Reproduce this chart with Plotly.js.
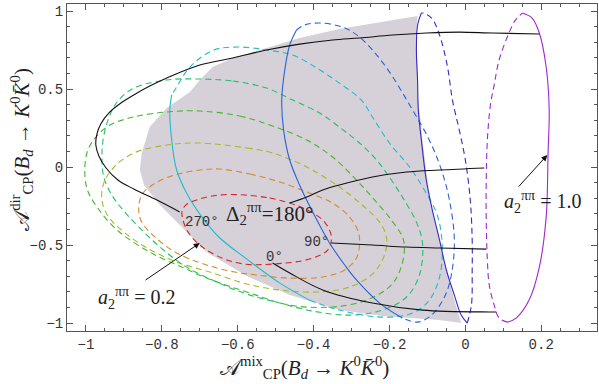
<!DOCTYPE html>
<html>
<head>
<meta charset="utf-8">
<script src="https://cdn.plot.ly/plotly-3.0.1.min.js"></script>
<style>html,body{margin:0;padding:0;background:#fff}</style>
</head>
<body>
<div id="chart" style="width:599px;height:384px"></div>
<script>
// Grey allowed region (A_mix, A_dir) boundary
const regionX = [-0.126,-0.226,-0.332,-0.437,-0.524,-0.613,-0.666,-0.700,-0.726,-0.787,-0.832,-0.853,-0.858,-0.847,-0.805,-0.753,-0.682,-0.576,-0.463,-0.332,-0.218,-0.068,-0.011,-0.029,-0.050,-0.068,-0.087,-0.100,-0.113,-0.124,-0.126,-0.129,-0.126];
const regionY = [0.968,0.929,0.885,0.827,0.763,0.699,0.641,0.558,0.481,0.378,0.256,0.090,-0.019,-0.115,-0.244,-0.372,-0.545,-0.699,-0.821,-0.917,-0.955,-0.981,-1.000,-0.853,-0.660,-0.468,-0.276,-0.083,0.173,0.429,0.686,0.878,0.968];

// a2 = 0.2 (red, dashed, closed)
const a02X = [-0.582,-0.516,-0.463,-0.411,-0.371,-0.353,-0.363,-0.411,-0.508,-0.582,-0.642,-0.700,-0.734,-0.747,-0.737,-0.700,-0.647,-0.582];
const a02Y = [-0.179,-0.199,-0.231,-0.282,-0.353,-0.449,-0.532,-0.590,-0.622,-0.622,-0.583,-0.500,-0.404,-0.288,-0.244,-0.205,-0.179,-0.179];
// a2 = 0.3 (orange)
const a03X = [-0.647,-0.568,-0.489,-0.418,-0.350,-0.305,-0.282,-0.279,-0.287,-0.318,-0.376,-0.463,-0.550,-0.608,-0.682,-0.761,-0.818,-0.853,-0.861,-0.853,-0.821,-0.766,-0.700,-0.647];
const a03Y = [-0.013,-0.045,-0.096,-0.160,-0.231,-0.321,-0.417,-0.500,-0.583,-0.660,-0.705,-0.712,-0.692,-0.673,-0.628,-0.551,-0.449,-0.353,-0.276,-0.179,-0.109,-0.051,-0.019,-0.013];
// a2 = 0.4 (olive)
const a04X = [-0.700,-0.576,-0.508,-0.418,-0.332,-0.266,-0.226,-0.208,-0.213,-0.245,-0.305,-0.392,-0.489,-0.576,-0.674,-0.761,-0.839,-0.900,-0.942,-0.958,-0.953,-0.926,-0.874,-0.787,-0.700];
const a04Y = [0.154,0.122,0.090,0.000,-0.128,-0.256,-0.353,-0.449,-0.564,-0.686,-0.769,-0.801,-0.788,-0.750,-0.673,-0.609,-0.519,-0.417,-0.314,-0.212,-0.103,0.000,0.090,0.141,0.154];
// a2 = 0.5 (green)
const a05X = [-0.700,-0.595,-0.508,-0.418,-0.350,-0.287,-0.239,-0.195,-0.163,-0.166,-0.195,-0.261,-0.350,-0.463,-0.576,-0.682,-0.742,-0.832,-0.918,-0.971,-0.997,-1.003,-0.995,-0.974,-0.937,-0.874,-0.787,-0.700];
const a05Y = [0.359,0.327,0.263,0.173,0.064,-0.083,-0.212,-0.340,-0.468,-0.615,-0.756,-0.853,-0.897,-0.885,-0.801,-0.712,-0.647,-0.545,-0.404,-0.256,-0.141,0.000,0.109,0.192,0.269,0.321,0.353,0.359];
// a2 = 0.6 (teal green)
const a06X = [-0.700,-0.613,-0.524,-0.455,-0.384,-0.332,-0.279,-0.234,-0.195,-0.161,-0.129,-0.113,-0.121,-0.155,-0.218,-0.305,-0.403,-0.489,-0.576,-0.661,-0.739,-0.805,-0.858,-0.900,-0.932,-0.953,-0.958,-0.955,-0.942,-0.918,-0.874,-0.787,-0.700];
const a06Y = [0.564,0.551,0.506,0.429,0.346,0.256,0.154,0.045,-0.083,-0.212,-0.353,-0.487,-0.692,-0.833,-0.917,-0.949,-0.923,-0.872,-0.814,-0.731,-0.635,-0.513,-0.391,-0.282,-0.179,-0.064,0.064,0.173,0.301,0.417,0.506,0.558,0.564];
// a2 = 0.7 (cyan): dashed part and solid part
const a07dX = [-0.411,-0.332,-0.218,-0.139,-0.095,-0.068,-0.061,-0.074,-0.108,-0.147,-0.200,-0.245,-0.274,-0.332,-0.392,-0.455,-0.524,-0.595,-0.663,-0.726,-0.761,-0.774];
const a07dY = [-0.853,-0.917,-0.962,-0.936,-0.853,-0.705,-0.500,-0.308,-0.147,0.000,0.154,0.321,0.429,0.538,0.635,0.718,0.750,0.769,0.750,0.641,0.513,0.462];
const a07sX = [-0.774,-0.779,-0.774,-0.761,-0.732,-0.692,-0.647,-0.576,-0.489,-0.411];
const a07sY = [0.462,0.365,0.173,-0.019,-0.179,-0.327,-0.455,-0.590,-0.744,-0.853];
// a2 = 0.8 (blue)
const a08dX = [-0.445,-0.424,-0.384,-0.324,-0.279,-0.213,-0.139,-0.095,-0.063,-0.042,-0.029,-0.037,-0.055,-0.089,-0.126,-0.166];
const a08dY = [0.878,0.910,0.923,0.897,0.833,0.654,0.365,0.173,-0.019,-0.212,-0.468,-0.692,-0.833,-0.949,-0.994,-0.968];
const a08sX = [-0.445,-0.463,-0.476,-0.484,-0.479,-0.463,-0.437,-0.405,-0.358,-0.318,-0.287,-0.226,-0.166];
const a08sY = [0.878,0.782,0.622,0.429,0.237,0.045,-0.115,-0.276,-0.487,-0.628,-0.724,-0.872,-0.968];
// a2 = 0.9 (indigo)
const a09dX = [0.005,0.016,0.018,0.018,0.013,0.000,-0.016,-0.034,-0.047,-0.068,-0.089,-0.111,-0.116];
const a09dY = [-1.000,-0.885,-0.660,-0.468,-0.212,0.045,0.237,0.429,0.641,0.846,0.955,0.987,0.987];
const a09sX = [-0.116,-0.126,-0.129,-0.126,-0.124,-0.116,-0.103,-0.087,-0.068,-0.050,-0.029,-0.011,0.005];
const a09sY = [0.987,0.910,0.750,0.558,0.365,0.173,-0.083,-0.276,-0.468,-0.660,-0.821,-0.949,-1.000];
// a2 = 1.0 (purple)
const a10dX = [0.111,0.089,0.076,0.063,0.058,0.055,0.055,0.058,0.066,0.076,0.089,0.116,0.132,0.150];
const a10dY = [-0.994,-0.968,-0.885,-0.756,-0.596,-0.340,-0.083,0.173,0.397,0.526,0.686,0.865,0.942,0.987];
const a10sX = [0.150,0.176,0.195,0.213,0.221,0.218,0.213,0.195,0.168,0.134,0.111];
const a10sY = [0.987,0.955,0.859,0.641,0.365,0.090,-0.321,-0.641,-0.853,-0.968,-0.994];

// Constant-phase curves Delta2 = 270, 180, 90, 0 degrees
const d270X = [-0.753,-0.813,-0.874,-0.916,-0.947,-0.966,-0.974,-0.971,-0.961,-0.937,-0.908,-0.874,-0.832,-0.787,-0.700,-0.613,-0.524,-0.437,-0.350,-0.279,-0.192,-0.103,-0.016,0.071,0.195];
const d270Y = [-0.288,-0.212,-0.141,-0.083,-0.006,0.071,0.141,0.212,0.276,0.353,0.410,0.462,0.519,0.571,0.654,0.699,0.750,0.788,0.814,0.827,0.846,0.859,0.865,0.859,0.853];
const d180X = [-0.463,-0.418,-0.376,-0.332,-0.245,-0.155,-0.068,0.050];
const d180Y = [-0.231,-0.192,-0.147,-0.115,-0.064,-0.032,-0.019,-0.006];
const d90X = [-0.353,-0.245,-0.155,-0.068,0.055];
const d90Y = [-0.487,-0.500,-0.513,-0.519,-0.526];
const d0X = [-0.508,-0.463,-0.376,-0.245,-0.113,0.063,0.082];
const d0Y = [-0.615,-0.679,-0.788,-0.872,-0.917,-0.929,-0.929];

const tickValsX = [-1,-0.8,-0.6,-0.4,-0.2,0,0.2];
const tickTextX = ['\u22121','\u22120.8','\u22120.6','\u22120.4','\u22120.2','0','0.2'];
const tickValsY = [-1,-0.5,0,0.5,1];
const tickTextY = ['\u22121','\u22120.5','0','0.5','1'];

const DASH = '6px,4px';
function ln(x, y, color, dash) {
  return {x: x, y: y, type: 'scatter', mode: 'lines',
    line: {color: color, width: 1.1, dash: dash || 'solid', shape: 'spline', smoothing: 1},
    hoverinfo: 'skip'};
}
const traces = [
  {x: regionX, y: regionY, type: 'scatter', mode: 'lines', fill: 'toself',
   fillcolor: 'rgb(214,208,216)', line: {width: 0, color: 'rgba(0,0,0,0)'}, hoverinfo: 'skip'},
  ln(a02X, a02Y, '#d42424', DASH),
  ln(a03X, a03Y, '#d48a28', DASH),
  ln(a04X, a04Y, '#a8b828', DASH),
  ln(a05X, a05Y, '#44b82c', DASH),
  ln(a06X, a06Y, '#20c070', DASH),
  ln(a07dX, a07dY, '#20bcc8', DASH),
  ln(a07sX, a07sY, '#20bcc8'),
  ln(a08dX, a08dY, '#2864d4', DASH),
  ln(a08sX, a08sY, '#2864d4'),
  ln(a09dX, a09dY, '#3a28c8', DASH),
  ln(a09sX, a09sY, '#3a28c8'),
  ln(a10dX, a10dY, '#a028d0', DASH),
  ln(a10sX, a10sY, '#a028d0'),
  ln(d270X, d270Y, '#111111'),
  ln(d180X, d180Y, '#111111'),
  ln(d90X, d90Y, '#111111'),
  ln(d0X, d0Y, '#111111')
];

const monoFont = {family: 'Liberation Mono, DejaVu Sans Mono, monospace', size: 14, color: '#333'};
const serif = 'Liberation Serif, DejaVu Serif, serif';
const mathFont = {family: serif, size: 21, color: '#222'};
const xTitle = '\ud835\udc9c<sup>mix</sup><sub>CP</sub>(<i>B<sub>d</sub></i> \u2192 <i>K</i><sup>0</sup><i>K\u0304</i><sup>0</sup>)';
const yTitle = '\ud835\udc9c<sup>dir</sup><sub>CP</sub>(<i>B<sub>d</sub></i> \u2192 <i>K</i><sup>0</sup><i>K\u0304</i><sup>0</sup>)';
const tickFont = {family: 'Liberation Mono, DejaVu Sans Mono, monospace', size: 14, color: '#333'};

const layout = {
  width: 599, height: 384,
  margin: {l: 67, r: 2, t: 4, b: 53},
  paper_bgcolor: '#ffffff', plot_bgcolor: '#ffffff',
  showlegend: false, hovermode: false,
  xaxis: {
    range: [-1.05, 0.347], tickvals: tickValsX, ticktext: tickTextX,
    ticks: 'inside', ticklen: 6, tickcolor: '#555', mirror: 'allticks',
    showline: true, linecolor: '#555', linewidth: 1, showgrid: false, zeroline: false,
    tickfont: tickFont,
    minor: {dtick: 0.05, tick0: 0, ticks: 'inside', ticklen: 3, tickcolor: '#555', showgrid: false}
  },
  yaxis: {
    range: [-1.051, 1.045], tickvals: tickValsY, ticktext: tickTextY,
    ticks: 'inside', ticklen: 6, tickcolor: '#555', mirror: 'allticks',
    showline: true, linecolor: '#555', linewidth: 1, showgrid: false, zeroline: false,
    tickfont: tickFont,
    minor: {dtick: 0.1, tick0: 0, ticks: 'inside', ticklen: 3, tickcolor: '#555', showgrid: false}
  },
  annotations: [
    {x: 0.449, y: -0.113, xref: 'paper', yref: 'paper', xanchor: 'center', yanchor: 'middle',
     text: xTitle, showarrow: false, font: mathFont},
    {x: -0.085, y: 0.557, xref: 'paper', yref: 'paper', xanchor: 'center', yanchor: 'middle',
     text: yTitle, showarrow: false, textangle: -90, font: mathFont},
    {x: -0.695, y: -0.353, xref: 'x', yref: 'y', text: '270\u00b0', showarrow: false, font: monoFont},
    {x: -0.392, y: -0.481, xref: 'x', yref: 'y', text: '90\u00b0', showarrow: false, font: monoFont},
    {x: -0.503, y: -0.577, xref: 'x', yref: 'y', text: '0\u00b0', showarrow: false, font: monoFont},
    {x: -0.515, y: -0.295, xref: 'x', yref: 'y', text: '\u0394<sub>2</sub><sup>\u03c0\u03c0</sup>=180\u00b0', showarrow: false,
     font: {family: serif, size: 21, color: '#222'}},
    {x: -0.866, y: -0.840, xref: 'x', yref: 'y', text: '<i>a</i><sub>2</sub><sup>\u03c0\u03c0</sup> = 0.2', showarrow: false,
     font: {family: serif, size: 20, color: '#222'}},
    {x: 0.203, y: -0.224, xref: 'x', yref: 'y', text: '<i>a</i><sub>2</sub><sup>\u03c0\u03c0</sup> = 1.0', showarrow: false,
     font: {family: serif, size: 20, color: '#222'}},
    {x: -0.700, y: -0.487, xref: 'x', yref: 'y', ax: -0.847, ay: -0.731, axref: 'x', ayref: 'y',
     text: '', showarrow: true, arrowhead: 2, arrowsize: 1.2, arrowwidth: 1, arrowcolor: '#111'},
    {x: 0.216, y: 0.077, xref: 'x', yref: 'y', ax: 0.137, ay: -0.135, axref: 'x', ayref: 'y',
     text: '', showarrow: true, arrowhead: 2, arrowsize: 1.2, arrowwidth: 1, arrowcolor: '#111'}
  ]
};

Plotly.newPlot('chart', traces, layout, {displayModeBar: false, staticPlot: true});
</script>
</body>
</html>
